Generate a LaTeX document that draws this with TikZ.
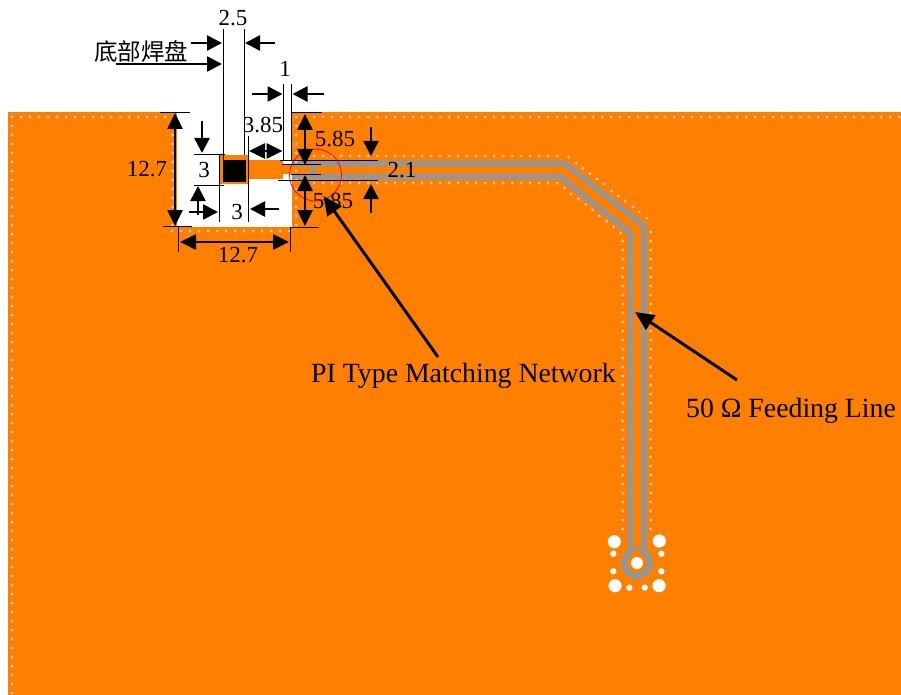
\documentclass[tikz,border=0pt]{standalone}
\usepackage{fontspec}
\setmainfont{Liberation Serif}
\newfontfamily\cjkfont{Noto Sans CJK SC}
\usetikzlibrary{arrows.meta}
\definecolor{plate}{HTML}{FF8000}
\definecolor{gap}{HTML}{969696}
\tikzset{
  x=1pt,y=-1pt,
  lbl/.style={font=\fontsize{23}{23}\selectfont,inner sep=0pt,text=black},
  biglbl/.style={font=\fontsize{27.8}{28}\selectfont,inner sep=0pt,text=black},
  wit/.style={draw=black,line width=1pt},
  dim/.style={draw=black,line width=2.6pt,-{Triangle[length=15pt,width=15pt]}},
  dimb/.style={draw=black,line width=2.6pt,{Triangle[length=16pt,width=15pt]}-{Triangle[length=16pt,width=15pt]}},
  lead/.style={draw=black,line width=3pt,-{Triangle[length=19pt,width=17pt]}},
  dot/.style={fill=white!65!gray,draw=none,circle,minimum size=3pt,inner sep=0pt},
  track/.style={draw=gap,line width=5.6pt,miter limit=10},
  bigvia/.style={fill=white,draw=none},
}
\begin{document}
\begin{tikzpicture}
\useasboundingbox (0,0) rectangle (901,695);
% plate and cut-out
\fill[plate] (8,112) rectangle (901,695);
\fill[white] (177,112) rectangle (292,227);
% pad and feed
\fill[plate] (220,155) rectangle (248,184);
\fill[plate] (248,160) rectangle (283,179);
\fill[plate] (283,165) rectangle (292,174);
\fill[black] (223,160) rectangle (246,182);
% end ring
\fill[gap] (637,563) circle[radius=16];
\fill[plate] (637,563) circle[radius=9.5];
% coplanar gaps
\draw[track] (292,163.5) -- (565,163.5) -- (644,226) -- (644,553);
\draw[track] (292,176.5) -- (560,176.5) -- (630.5,233) -- (630.5,553);
\fill[gap] (310,166) rectangle (315,174);
\fill[plate] (633.3,550) rectangle (641.2,556);
\fill[white] (637,563) circle[radius=6];
% large and small vias
\foreach \p in {(614.3,541.7),(659.3,541),(615,585.7),(659,585.7)}
  \fill[bigvia] \p circle[radius=6.6];
\foreach \p in {(613.3,553.7),(661.3,553.7),(613.3,571.3),(661.3,571.3),(629.3,587.7),(644.7,587.7)}
  \fill[bigvia] \p circle[radius=3.2];
% stitching vias
\foreach \x in {12,21,...,165} \node[dot] at (\x,117) {};
\foreach \x in {296,305,...,900} \node[dot] at (\x,117) {};
\foreach \y in {126,135,...,695} \node[dot] at (12,\y) {};
\foreach \y in {126,135,...,225} {\node[dot] at (172.7,\y) {}; \node[dot] at (296,\y) {};}
\foreach \x in {172,181,...,296} \node[dot] at (\x,231) {};
\foreach \x in {314,323,...,557} {\node[dot] at (\x,156) {}; \node[dot] at (\x,183) {};}
\foreach \p in {(568.7,157),(576,163),(582.7,168.3),(590,173.7),(597,179),(604,184),(611.7,191),(618.3,196),(625,201),(633,207),(639,212),(646.7,218),
  (564.3,188),(571,194),(578.3,199),(585.7,204.3),(592.3,210),(599.3,216),(606.7,221),(613.7,227),(620.7,233)}
  \node[dot] at \p {};
\foreach \y in {232,241,...,530} \node[dot] at (650.5,\y) {};
\foreach \y in {241,250,...,530} \node[dot] at (622.7,\y) {};
% marker circle
\node[draw=red,line width=0.8pt,circle,minimum size=52pt,inner sep=0pt] (mark) at (315.5,175) {};
% labels
\node[lbl] (d25) at (233,18) {2.5};
\node[lbl,font=\cjkfont\fontsize{23.5}{24}\selectfont] (pad) at (141,52) {底部焊盘};
\node[lbl] (d1) at (285,69) {1};
\node[lbl] (d385) at (263,125) {3.85};
\node[lbl] (d127l) at (147,169) {12.7};
\node[lbl] (d127b) at (238,255) {12.7};
\node[lbl] (d3l) at (204,170) {3};
\node[lbl] (d3b) at (237,212) {3};
\node[lbl] (d585t) at (335,139) {5.85};
\node[lbl] (d585b) at (333,201) {5.85};
\node[lbl] (d21) at (402,170) {2.1};
\node[biglbl] (pi) at (463.5,376) {PI Type Matching Network};
\node[biglbl] (feed) at (791,411) {50 Ω Feeding Line};
% witness lines
\draw[wit] (223,29) -- (223,160);
\draw[wit] (244,29) -- (244,155);
\draw[wit] (283.3,84) -- (283.3,160);
\draw[wit] (291,84) -- (291,160);
\draw[wit] (248.5,136) -- (248.5,222);
\draw[wit] (219.3,155) -- (219.3,222);
\draw[wit] (194,155) -- (225,155);
\draw[wit] (194,185) -- (224,185);
\draw[wit] (160,113) -- (190,113);
\draw[wit] (162.7,226.7) -- (192,226.7);
\draw[wit] (178.5,227) -- (178.5,252);
\draw[wit] (290.5,227) -- (290.5,252);
\draw[wit] (291.7,113) -- (321.7,113);
\draw[wit] (280,160.7) -- (378,160.7);
\draw[wit] (281.7,165) -- (320.7,165);
\draw[wit] (291,174.7) -- (320.7,174.7);
\draw[wit] (278,180) -- (378,180);
\draw[wit] (290,227) -- (319,227);
% dimension arrows
\draw[dim] (191,43) -- (222,43);
\draw[dim] (275,43) -- (245,43);
\draw[dim] (116,64) -- (222,64);
\draw[dim] (252,94) -- (282.5,94);
\draw[dim] (324,94) -- (292.5,94);
\draw[dimb] (249,151) -- (282.5,151);
\draw[dimb] (175,113) -- (175,226);
\draw[dimb] (180,242) -- (289,242);
\draw[dim] (202,121) -- (202,153);
\draw[dim] (198,215) -- (198,186);
\draw[dim] (189,212) -- (218,212);
\draw[dim] (279,209) -- (250,209);
\draw[dimb] (305,114) -- (305,165);
\draw[dimb] (305,175) -- (305,226);
\draw[dim] (371,127) -- (371,156);
\draw[dim] (371,213) -- (371,184);
% leaders
\coordinate (pitail) at (438,357);
\coordinate (pitip) at (323.5,196);
\coordinate (feedtail) at (737,380);
\coordinate (feedtip) at (635,312);
\draw[lead] (pitail) -- (pitip);
\draw[lead] (feedtail) -- (feedtip);
\end{tikzpicture}
\end{document}
